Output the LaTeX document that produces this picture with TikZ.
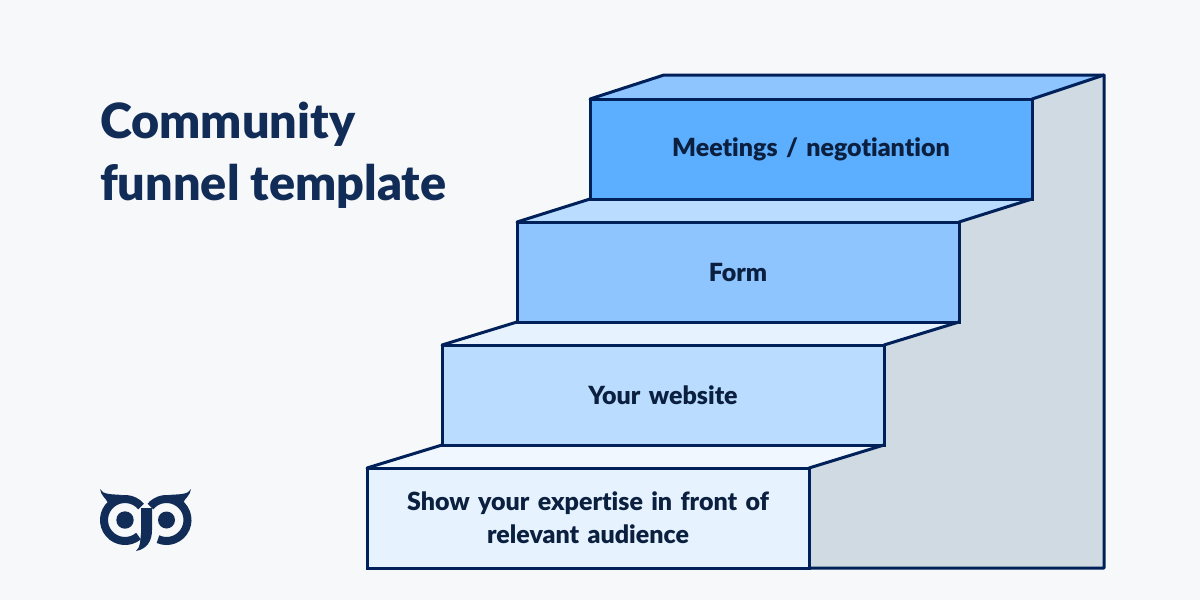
\documentclass[tikz,border=0pt]{standalone}
\usepackage{fontspec}
\setmainfont{Lato}[BoldFont=Lato Black, Ligatures=NoCommon]
\usetikzlibrary{positioning,backgrounds}
\definecolor{pagebg}{HTML}{F7F8FA}
\definecolor{edgeblue}{HTML}{00205A}
\definecolor{inkblue}{HTML}{0B1F3F}
\definecolor{titleblue}{HTML}{102C57}
\definecolor{wallgrey}{HTML}{CFDAE3}
\definecolor{blueA}{HTML}{E6F3FF}
\definecolor{blueB}{HTML}{B9DCFF}
\definecolor{blueC}{HTML}{8EC5FF}
\definecolor{blueD}{HTML}{5CAEFF}
\definecolor{blueE}{HTML}{F0F7FF}
\tikzset{
    stepbox/.style={draw=edgeblue, line width=3pt, rectangle, outer sep=0pt, inner sep=0pt,
        minimum width=442pt, minimum height=100pt, text width=420pt, align=center,
        text=inkblue, font=\fontsize{25}{33}\selectfont\bfseries},
    edge/.style={draw=edgeblue, line width=3pt, line join=round, line cap=round},
    owlring/.style={titleblue, line width=8pt},
}
\begin{document}
\begin{tikzpicture}[x=1pt, y=-1pt]
    \useasboundingbox (0,0) rectangle (1200,600);
    \node [stepbox, fill=blueA, anchor=south west] (one) at (367,568) {Show your expertise in front of\\relevant audience};
    \node [stepbox, fill=blueB, above=23pt of one.north west, anchor=south west, xshift=75pt] (two) {Your website};
    \node [stepbox, fill=blueC, above=23pt of two.north west, anchor=south west, xshift=75pt] (three) {Form};
    \node [stepbox, fill=blueD, above=23pt of three.north west, anchor=south west, xshift=73pt] (four) {Meetings / negotiantion};
    \coordinate (backleft) at (664,75);
    \coordinate (backright) at (1104,75);
    \coordinate (floor) at (1104,568);
    \node [anchor=north west, inner sep=0pt, align=left, text=titleblue, font=\fontsize{48.5}{62}\selectfont\bfseries] (title) at (100,102) {Community\\funnel template};
    \begin{scope}[on background layer]
        \fill [pagebg] (0,0) rectangle (1200,600);
        \fill [wallgrey] (backright) -- (floor) -- (one.south east) -- (one.north east) -- (two.south east)
            -- (two.north east) -- (three.south east) -- (three.north east) -- (four.south east)
            -- (four.north east) -- cycle;
        \fill [blueE] (one.north west) -- (two.south west) -- (two.south east) -- (one.north east) -- cycle;
        \fill [blueA] (two.north west) -- (three.south west) -- (three.south east) -- (two.north east) -- cycle;
        \fill [blueB] (three.north west) -- (four.south west) -- (four.south east) -- (three.north east) -- cycle;
        \fill [blueC] (four.north west) -- (backleft) -- (backright) -- (four.north east) -- cycle;
    \end{scope}
    \draw [edge] (one.north west) -- (two.south west);
    \draw [edge] (two.north west) -- (three.south west);
    \draw [edge] (three.north west) -- (four.south west);
    \draw [edge] (four.north west) -- (backleft) -- (backright) -- (floor) -- (one.south east);
    \draw [edge] (backright) -- (four.north east);
    \draw [edge] (three.north east) -- (four.south east);
    \draw [edge] (two.north east) -- (three.south east);
    \draw [edge] (one.north east) -- (two.south east);
    % owl
    \draw [owlring] (125,520) ++(50:21) arc [start angle=50, end angle=320, radius=21];
    \draw [owlring] (166.5,520) ++(114:21) arc [start angle=114, end angle=-140, radius=21];
    \fill [titleblue] (125,520) circle [radius=8.7];
    \fill [titleblue] (166.5,520) circle [radius=8.5];
    \fill [titleblue] (100,489) .. controls (103,495) and (112,494) .. (122,495) -- (108,503) .. controls (106,498) and (101,496) .. cycle;
    \fill [titleblue] (191,489) .. controls (188,495) and (179,494) .. (169,495) -- (183,503) .. controls (185,498) and (190,496) .. cycle;
    \fill [titleblue] (141,508) -- (141,533) -- (140,543) .. controls (140,546) and (138,549) .. (136,551)
        .. controls (147,549) and (152,541) .. (152,530) -- (152,508) -- cycle;
\end{tikzpicture}
\end{document}
